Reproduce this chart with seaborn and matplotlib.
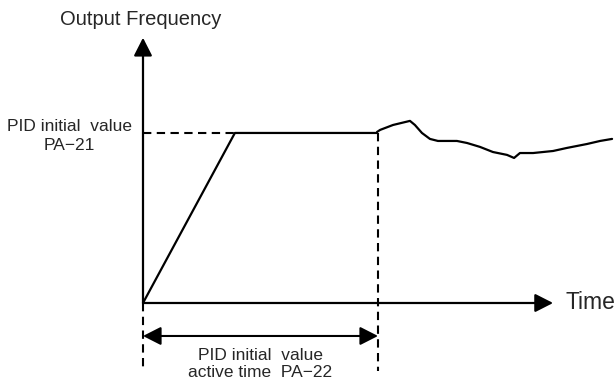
import matplotlib
matplotlib.use("Agg")
import matplotlib.pyplot as plt
import seaborn as sns
import pandas as pd

# Time axis (s) and output frequency (% of PID initial value)
ramp_time = [0.0, 3.91, 9.96]
ramp_freq = [0.0, 100.0, 100.0]

pid_time = [9.96, 10.09, 10.64, 11.36, 11.57, 11.87, 12.21, 12.55, 13.36, 13.79,
            14.34, 14.89, 15.49, 15.79, 16.04, 16.60, 17.45, 18.04, 18.89, 19.45, 19.96]
pid_freq = [100.6, 101.8, 104.7, 107.1, 104.7, 100.0, 96.5, 95.3, 95.3, 94.1,
            91.8, 88.8, 87.1, 85.3, 88.2, 88.2, 89.4, 91.2, 93.5, 95.3, 96.5]

initial_value = 100.0      # PA-21
active_time = 10.0         # PA-22
axis_top = 156.0
axis_right = 17.45

y_label = "Output Frequency"
x_label = "Time"
level_label = "PID initial  value\nPA\u221221"
time_label = "PID initial  value\nactive time  PA\u221222"

sns.set_theme(style="white")
plt.rcParams["font.family"] = ["Liberation Sans", "DejaVu Sans"]

fig = plt.figure(figsize=(6.15, 3.79), dpi=100)
ax = fig.add_axes([0, 0, 1, 1])
ax.set_xlim(-6.085, 20.085)
ax.set_ylim(-44.7, 178.2)
ax.axis("off")

lw = 1.6
ramp_df = pd.DataFrame({"t": ramp_time, "f": ramp_freq})
pid_df = pd.DataFrame({"t": pid_time, "f": pid_freq})
sns.lineplot(data=ramp_df, x="t", y="f", color="black", lw=lw, sort=False, ax=ax)
sns.lineplot(data=pid_df, x="t", y="f", color="black", lw=lw, sort=False, ax=ax)

# Axes with arrowheads
head = dict(arrowstyle="-|>,head_length=0.55,head_width=0.28", lw=lw, color="black",
            mutation_scale=20, shrinkA=0, shrinkB=0)
ax.annotate("", xy=(0, axis_top), xytext=(0, 0), arrowprops=head)
ax.annotate("", xy=(axis_right, 0), xytext=(0, 0), arrowprops=head)

# Dashed guides
dash = dict(color="black", lw=1.5, ls=(0, (4, 2.6)))
ax.plot([0, 3.91], [initial_value, initial_value], **dash)
ax.plot([active_time, active_time], [initial_value, -40], **dash)
ax.plot([0, 0], [0, -40], **dash)

# Active time span
span = dict(arrowstyle="<|-|>,head_length=0.55,head_width=0.28", lw=1.5, color="black",
            mutation_scale=20, shrinkA=0, shrinkB=0)
ax.annotate("", xy=(active_time, -19.4), xytext=(0, -19.4), arrowprops=span)

ax.text(-0.09, 166.5, y_label, ha="center", va="center", fontsize=14.5)
ax.text(17.96, 0, x_label, ha="left", va="center", fontsize=16.5)
ax.text(-0.47, 98.2, level_label, ha="right", va="center", fontsize=12.5,
        multialignment="center", linespacing=1.3)
ax.text(5.0, -35.8, time_label, ha="center", va="center", fontsize=12.5,
        multialignment="center", linespacing=1.15)

fig.savefig("out.png", dpi=100)
